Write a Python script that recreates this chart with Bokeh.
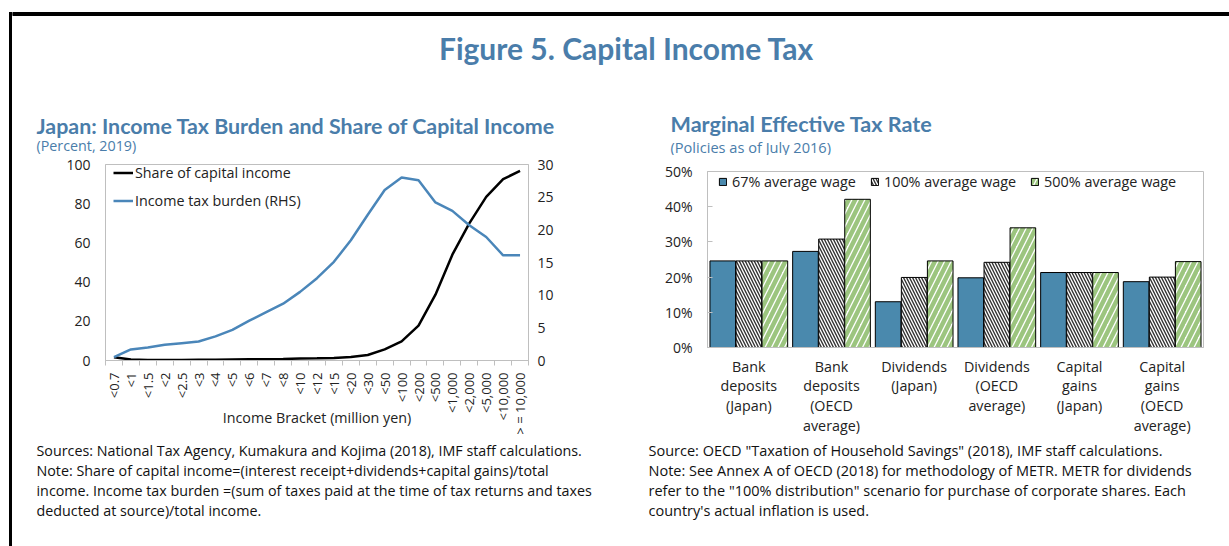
import math
from bokeh.plotting import figure
from bokeh.models import (Range1d, LinearAxis, FixedTicker, Label, Legend, LegendItem,
                          ColumnDataSource, FactorRange, PrintfTickFormatter, Div)
from bokeh.transform import dodge
from bokeh.layouts import column, row
from bokeh.embed import file_html
from bokeh.resources import INLINE

# ---------------- data: left chart ----------------
brackets = ["<0.7", "<1", "<1.5", "<2", "<2.5", "<3", "<4", "<5", "<6", "<7", "<8", "<10",
            "<12", "<15", "<20", "<30", "<50", "<100", "<200", "<500", "<1,000", "<2,000",
            "<5,000", "<10,000", "> = 10,000"]
capital_share = [1.6, 0.5, 0.3, 0.3, 0.3, 0.4, 0.4, 0.5, 0.6, 0.7, 0.8, 1.0, 1.1, 1.3, 1.8,
                 2.8, 5.7, 9.8, 17.8, 33.6, 54.0, 70.0, 83.5, 92.5, 96.8]
tax_burden = [0.5, 1.7, 2.0, 2.4, 2.65, 2.9, 3.7, 4.7, 6.1, 7.4, 8.7, 10.5, 12.6, 15.1, 18.4,
              22.3, 26.1, 28.0, 27.6, 24.2, 22.9, 20.7, 18.9, 16.1, 16.1]
left_ticks = [0, 20, 40, 60, 80, 100]
right_ticks = [0, 5, 10, 15, 20, 25, 30]

# ---------------- data: right chart ----------------
instruments = ["Bank\ndeposits\n(Japan)", "Bank\ndeposits\n(OECD\naverage)", "Dividends\n(Japan)",
               "Dividends\n(OECD\naverage)", "Capital\ngains\n(Japan)", "Capital\ngains\n(OECD\naverage)"]
wage_67 = [24.6, 27.3, 13.0, 19.8, 21.3, 18.7]
wage_100 = [24.6, 30.8, 19.9, 24.2, 21.3, 20.0]
wage_500 = [24.6, 42.1, 24.6, 34.0, 21.3, 24.4]
metr_ticks = [0, 10, 20, 30, 40, 50]

TITLE_BLUE = "#4A7DAA"
LINE_BLUE = "#4A86B9"
BAR_BLUE = "#4A89AD"
GREEN = "#9CC57F"
GRAY = "#BFBFBF"
TXT = "#222222"
FONT = "Open Sans"
TFONT = "Lato"

EDGE = 12
W = 1229 - EDGE
H_HEAD, H_ROW, H_FOOT = 155, 285, 106
H_ALL = H_HEAD + H_ROW + H_FOOT


def canvas_fig(w, h):
    p = figure(width=w, height=h, x_range=Range1d(0, w), y_range=Range1d(h, 0),
               x_axis_type=None, y_axis_type=None, toolbar_location=None,
               output_backend="svg", outline_line_color=None,
               min_border_left=0, min_border_right=0, min_border_top=0, min_border_bottom=0)
    p.frame_align = False
    p.grid.visible = False
    return p


def put(p, x, y, text, size="14px", color=TXT, font=FONT, style="normal", align="left"):
    p.add_layout(Label(x=x, y=y, text=text, text_font=font, text_font_size=size,
                       text_color=color, text_font_style=style, text_align=align,
                       text_baseline="middle"))


# ---------------- left frame line of the whole panel ----------------
edge = Div(width=EDGE, height=H_ALL, margin=0,
           text='<div style="position:absolute;left:9px;top:12px;width:3px;height:%dpx;'
                'background:#000000;"></div>' % (H_ALL - 12),
           styles={"position": "relative", "overflow": "hidden"})

# ---------------- header ----------------
head = canvas_fig(W, H_HEAD)
head.quad(left=[0], right=[W], top=[12], bottom=[15], color="black")
put(head, 626 - EDGE, 47, "Figure 5. Capital Income Tax", size="30px", color=TITLE_BLUE,
    font=TFONT, style="bold", align="center")
put(head, 36 - EDGE, 125, "Japan: Income Tax Burden and Share of Capital Income", size="21.4px",
    color=TITLE_BLUE, font=TFONT, style="bold")
put(head, 36 - EDGE, 145, "(Percent, 2019)", size="14.3px", color=TITLE_BLUE)
put(head, 670 - EDGE, 123, "Marginal Effective Tax Rate", size="21.6px", color=TITLE_BLUE,
    font=TFONT, style="bold")
put(head, 670 - EDGE, 146, "(Policies as of July 2016)", size="14.6px", color=TITLE_BLUE)

# ---------------- left chart ----------------
xs = list(range(len(brackets)))
src1 = ColumnDataSource(dict(x=xs, share=capital_share, burden=tax_burden))
p1 = figure(width=588, height=H_ROW, x_range=Range1d(-0.5, len(brackets) - 0.5),
            y_range=Range1d(0, 100), toolbar_location=None, output_backend="svg",
            min_border_left=93, min_border_right=72, min_border_top=9, min_border_bottom=80,
            outline_line_color=GRAY)
p1.frame_align = False
p1.extra_y_ranges = {"rhs": Range1d(0, 30)}
r_share = p1.line("x", "share", source=src1, line_color="black", line_width=2.5)
r_burden = p1.line("x", "burden", source=src1, y_range_name="rhs", line_color=LINE_BLUE,
                   line_width=2.5)
p1.grid.visible = False

xa = p1.xaxis[0]
xa.ticker = FixedTicker(ticks=xs, minor_ticks=[i - 0.5 for i in range(len(brackets) + 1)])
xa.major_label_overrides = {i: b for i, b in enumerate(brackets)}
xa.major_label_orientation = math.pi / 2
xa.major_tick_out = 0
xa.major_tick_in = 0
xa.minor_tick_out = 5
xa.minor_tick_in = 0
xa.minor_tick_line_color = GRAY
xa.axis_line_color = GRAY
xa.major_label_standoff = 7
xa.major_label_text_font = FONT
xa.major_label_text_font_size = "13px"
xa.major_label_text_color = TXT
xa.axis_label = "Income Bracket (million yen)"
xa.axis_label_text_font = FONT
xa.axis_label_text_font_size = "14.3px"
xa.axis_label_text_font_style = "normal"
xa.axis_label_text_color = TXT
xa.axis_label_standoff = -30

ya = p1.yaxis[0]
ya.ticker = FixedTicker(ticks=left_ticks)
ya.major_tick_out = 0
ya.major_tick_in = 0
ya.minor_tick_out = 0
ya.minor_tick_in = 0
ya.axis_line_color = GRAY
ya.major_label_standoff = 15
ya.major_label_text_font = FONT
ya.major_label_text_font_size = "14px"
ya.major_label_text_color = TXT

ra = LinearAxis(y_range_name="rhs", ticker=FixedTicker(ticks=right_ticks))
ra.major_tick_out = 0
ra.major_tick_in = 0
ra.minor_tick_out = 0
ra.minor_tick_in = 0
ra.axis_line_color = GRAY
ra.major_label_standoff = 9
ra.major_label_text_font = FONT
ra.major_label_text_font_size = "14px"
ra.major_label_text_color = TXT
p1.add_layout(ra, "right")

leg1 = Legend(items=[LegendItem(label="Share of capital income", renderers=[r_share]),
                     LegendItem(label="Income tax burden (RHS)", renderers=[r_burden])],
              location=(8, 150), margin=0, padding=0, spacing=9,
              glyph_width=20, glyph_height=19, label_standoff=2, label_height=19,
              label_text_font=FONT, label_text_font_size="14.3px", label_text_color=TXT,
              border_line_color=None, background_fill_alpha=0)
p1.add_layout(leg1)

# ---------------- right chart ----------------
src2 = ColumnDataSource(dict(cat=instruments, w67=wage_67, w100=wage_100, w500=wage_500))
p2 = figure(width=629, height=H_ROW, x_range=FactorRange(*instruments), y_range=Range1d(0, 50),
            toolbar_location=None, output_backend="svg",
            min_border_left=107, min_border_right=26, min_border_top=16, min_border_bottom=93,
            outline_line_color=GRAY)
p2.frame_align = False
p2.x_range.range_padding = 0
b1 = p2.vbar(x=dodge("cat", -0.315, range=p2.x_range), top="w67", width=0.31, source=src2,
             fill_color=BAR_BLUE, line_color="black", line_width=1)
b2 = p2.vbar(x=dodge("cat", 0.0, range=p2.x_range), top="w100", width=0.31, source=src2,
             fill_color="white", line_color="black", line_width=1,
             hatch_pattern="\\", hatch_color="#333333", hatch_scale=6, hatch_weight=1.4)
b3 = p2.vbar(x=dodge("cat", 0.315, range=p2.x_range), top="w500", width=0.31, source=src2,
             fill_color="white", line_color="black", line_width=1,
             hatch_pattern="/", hatch_color=GREEN, hatch_scale=13, hatch_weight=4.5)
p2.grid.visible = False

xb = p2.xaxis[0]
xb.major_tick_out = 0
xb.major_tick_in = 0
xb.axis_line_color = GRAY
xb.major_label_standoff = 9
xb.major_label_text_font = FONT
xb.major_label_text_font_size = "14.3px"
xb.major_label_text_color = TXT
xb.major_label_text_line_height = 1.04

yb = p2.yaxis[0]
yb.ticker = FixedTicker(ticks=metr_ticks)
yb.formatter = PrintfTickFormatter(format="%d%%")
yb.major_tick_out = 0
yb.major_tick_in = 5
yb.minor_tick_out = 0
yb.minor_tick_in = 0
yb.major_tick_line_color = GRAY
yb.axis_line_color = GRAY
yb.major_label_standoff = 15
yb.major_label_text_font = FONT
yb.major_label_text_font_size = "14px"
yb.major_label_text_color = TXT

leg2 = Legend(items=[LegendItem(label="67% average wage", renderers=[b1]),
                     LegendItem(label="100% average wage", renderers=[b2]),
                     LegendItem(label="500% average wage", renderers=[b3])],
              location=(11, 156), orientation="horizontal", margin=0, padding=0, spacing=14,
              glyph_width=9, glyph_height=9, label_standoff=5, label_height=19,
              label_text_font=FONT, label_text_font_size="14.4px", label_text_color=TXT,
              border_line_color=None, background_fill_alpha=0)
p2.add_layout(leg2)

# ---------------- footer ----------------
foot = canvas_fig(W, H_FOOT)
left_notes = ["Sources: National Tax Agency, Kumakura and Kojima (2018), IMF staff calculations.",
              "Note: Share of capital income=(interest receipt+dividends+capital gains)/total",
              "income. Income tax burden =(sum of taxes paid at the time of tax returns and taxes",
              "deducted at source)/total income."]
right_notes = ["Source: OECD \"Taxation of Household Savings\" (2018), IMF staff calculations.",
               "Note: See Annex A of OECD (2018) for methodology of METR. METR for dividends",
               "refer to the \"100% distribution\" scenario for purchase of corporate shares. Each",
               "country's actual inflation is used."]
for i, t in enumerate(left_notes):
    put(foot, 36 - EDGE, 10 + 20 * i, t, size="14.3px", color="#111111")
for i, t in enumerate(right_notes):
    put(foot, 648 - EDGE, 10 + 20 * i, t, size="14.5px", color="#111111")

main = column(head, row(p1, p2), foot)
layout = row(edge, main)
open("out.html", "w").write(file_html(layout, INLINE))
